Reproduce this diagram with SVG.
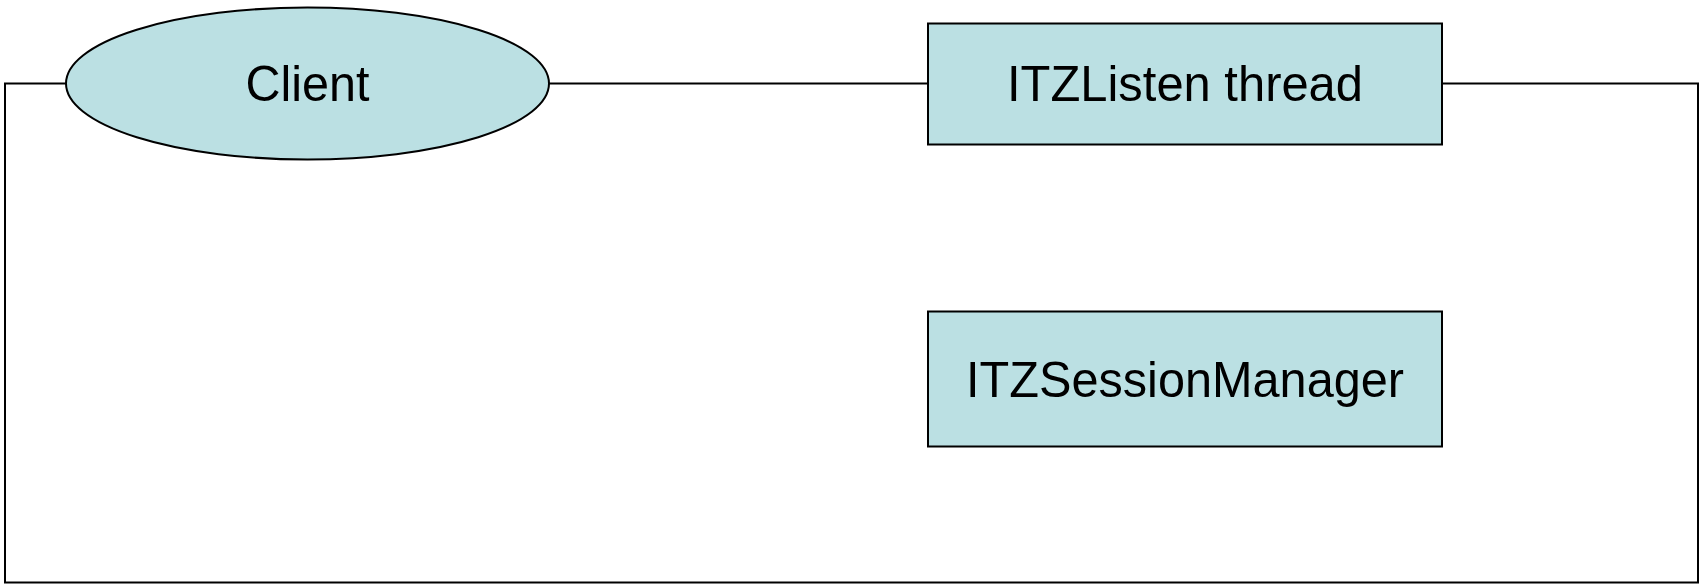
<svg xmlns="http://www.w3.org/2000/svg" width="1700" height="584" viewBox="0 0 1700 584">
  <style>
    .node { fill: #BBE0E3; stroke: #000; stroke-width: 2; }
    .conn { fill: none; stroke: #000; stroke-width: 2; }
    .label { font-family: "Liberation Sans", Arial, sans-serif; font-size: 50px; fill: #000; text-anchor: middle; }
  </style>
  <rect width="1700" height="584" fill="#fff"/>
  <g id="connectors">
    <path class="conn" d="M66,83.5 H5 V582.5 H1698 V83.5 H1442"/>
    <path class="conn" d="M549,83.5 H928"/>
  </g>
  <g id="client">
    <ellipse class="node" cx="307.5" cy="83.5" rx="241.5" ry="76"/>
    <text class="label" x="307.5" y="101" textLength="124" lengthAdjust="spacingAndGlyphs">Client</text>
  </g>
  <g id="itzlisten">
    <rect class="node" x="928" y="23.5" width="514" height="121"/>
    <text class="label" x="1185" y="101" textLength="356" lengthAdjust="spacingAndGlyphs">ITZListen thread</text>
  </g>
  <g id="itzsessionmanager">
    <rect class="node" x="928" y="311.5" width="514" height="135"/>
    <text class="label" x="1185" y="397" textLength="438" lengthAdjust="spacingAndGlyphs">ITZSessionManager</text>
  </g>
</svg>
